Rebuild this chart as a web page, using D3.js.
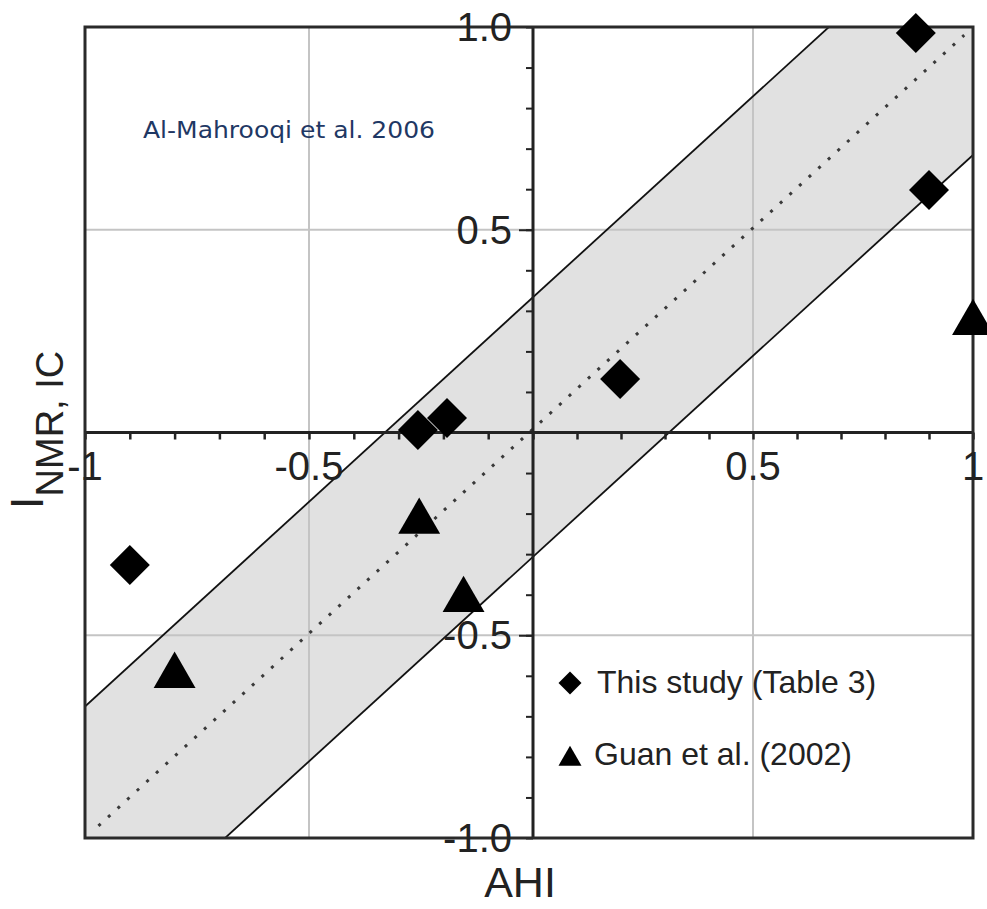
<!DOCTYPE html>
<html>
<head>
<meta charset="utf-8">
<script src="https://cdn.jsdelivr.net/npm/d3@7"></script>
<style>
  html, body { margin: 0; padding: 0; background: #fff; }
  svg { display: block; }
</style>
</head>
<body>
<svg id="chart" width="987" height="909"></svg>
<script>
// ---- data ----
const studyX = [0.87, 0.90, 0.198, -0.257, -0.192, -0.90];
const studyY = [0.985, 0.598, 0.132, 0.006, 0.036, -0.327];
const guanX = [1.0, -0.254, -0.155, -0.80];
const guanY = [0.27, -0.22, -0.413, -0.60];
const bandHalfWidth = 0.32;
const diagonal = [-0.97, 0.98];
const xTicks = [-1, -0.5, 0.5, 1];
const xTickLabels = ["-1", "-0.5", "0.5", "1"];
const yTicks = [1, 0.5, -0.5, -1];
const yTickLabels = ["1.0", "0.5", "-0.5", "-1.0"];
const gridValues = [-0.5, 0.5];
const minorTicks = d3.range(-10, 11).map(d => d / 10);
const legendLabels = ["This study (Table 3)", "Guan et al. (2002)"];
const annotation = "Al-Mahrooqi et al. 2006";

// ---- layout ----
const svg = d3.select("#chart");
const x = d3.scaleLinear().domain([-1, 0, 1]).range([85, 533, 973]);
const y = d3.scaleLinear().domain([-1, 1]).range([838, 27]);
const font = "'Liberation Sans', Arial, Helvetica, sans-serif";

svg.append("defs").append("clipPath").attr("id", "plotclip")
  .append("rect")
  .attr("x", x(-1)).attr("y", y(1))
  .attr("width", x(1) - x(-1)).attr("height", y(-1) - y(1));

const plot = svg.append("g").attr("clip-path", "url(#plotclip)");

// band
const bandXs = [-1.5, 1.5];
plot.append("path")
  .datum(bandXs)
  .attr("d", d3.area().x(d => x(d)).y0(d => y(d - bandHalfWidth)).y1(d => y(d + bandHalfWidth)))
  .attr("fill", "#e1e1e1");

// grid lines
plot.selectAll("line.gx").data(gridValues).join("line")
  .attr("x1", d => x(d)).attr("x2", d => x(d))
  .attr("y1", y(1)).attr("y2", y(-1))
  .attr("stroke", "#c4c4c4").attr("stroke-width", 2);
plot.selectAll("line.gy").data(gridValues).join("line")
  .attr("y1", d => y(d)).attr("y2", d => y(d))
  .attr("x1", x(-1)).attr("x2", x(1))
  .attr("stroke", "#c4c4c4").attr("stroke-width", 2);

// band boundary lines
[bandHalfWidth, -bandHalfWidth].forEach(c => {
  plot.append("path")
    .datum(bandXs)
    .attr("d", d3.line().x(d => x(d)).y(d => y(d + c)))
    .attr("fill", "none").attr("stroke", "#111").attr("stroke-width", 1.8);
});

// dotted diagonal
plot.append("path")
  .datum(diagonal)
  .attr("d", d3.line().x(d => x(d)).y(d => y(d)))
  .attr("fill", "none").attr("stroke", "#3a3a3a").attr("stroke-width", 3)
  .attr("stroke-dasharray", "3,10");

// axes through origin
const xAxisG = svg.append("g").attr("transform", `translate(0,${y(0)})`)
  .call(d3.axisBottom(x).tickValues(minorTicks).tickSize(7).tickFormat(""));
xAxisG.select(".domain").remove();
xAxisG.selectAll("line").attr("stroke", "#222").attr("stroke-width", 2.5);
svg.append("line").attr("x1", x(-1)).attr("x2", x(1)).attr("y1", y(0)).attr("y2", y(0))
  .attr("stroke", "#222").attr("stroke-width", 3);

const yAxisG = svg.append("g").attr("transform", `translate(${x(0)},0)`)
  .call(d3.axisLeft(y).tickValues(minorTicks).tickSize(7).tickFormat(""));
yAxisG.select(".domain").remove();
yAxisG.selectAll("line").attr("stroke", "#222").attr("stroke-width", 2);
svg.append("g").attr("transform", `translate(${x(0)},0)`)
  .call(d3.axisLeft(y).tickValues([0.5, -0.5]).tickSize(14).tickFormat(""))
  .call(g => g.select(".domain").remove())
  .selectAll("line").attr("stroke", "#222").attr("stroke-width", 2);
svg.append("line").attr("x1", x(0)).attr("x2", x(0)).attr("y1", y(1)).attr("y2", y(-1))
  .attr("stroke", "#222").attr("stroke-width", 3);

// frame
svg.append("rect")
  .attr("x", x(-1)).attr("y", y(1))
  .attr("width", x(1) - x(-1)).attr("height", y(-1) - y(1))
  .attr("fill", "none").attr("stroke", "#2a2a2a").attr("stroke-width", 3);

// tick labels
svg.selectAll("text.xt").data(xTicks).join("text")
  .attr("x", d => x(d)).attr("y", y(0) + 47)
  .attr("text-anchor", "middle")
  .attr("font-family", font).attr("font-size", 40).attr("fill", "#222")
  .text((d, i) => xTickLabels[i]);
svg.selectAll("text.yt").data(yTicks).join("text")
  .attr("x", x(0) - 21).attr("y", d => y(d) + 14)
  .attr("text-anchor", "end")
  .attr("font-family", font).attr("font-size", 40).attr("fill", "#222")
  .text((d, i) => yTickLabels[i]);

// markers
const diamondPath = d3.symbol().type(d3.symbolSquare).size(800)();
const trianglePath = d3.symbol().type(d3.symbolTriangle).size(760)();
svg.append("g").selectAll("path").data(studyX).join("path")
  .attr("d", diamondPath)
  .attr("transform", (d, i) => `translate(${x(d)},${y(studyY[i])}) rotate(45)`)
  .attr("fill", "#000");
svg.append("g").selectAll("path").data(guanX).join("path")
  .attr("d", trianglePath)
  .attr("transform", (d, i) => `translate(${x(d)},${y(guanY[i])})`)
  .attr("fill", "#000");

// legend
const legend = svg.append("g");
legend.append("path")
  .attr("d", d3.symbol().type(d3.symbolSquare).size(265)())
  .attr("transform", "translate(570,683) rotate(45)").attr("fill", "#000");
legend.append("path")
  .attr("d", d3.symbol().type(d3.symbolTriangle).size(229)())
  .attr("transform", "translate(570,759)").attr("fill", "#000");
legend.selectAll("text").data(legendLabels).join("text")
  .attr("x", (d, i) => i === 0 ? 597 : 594)
  .attr("y", (d, i) => i === 0 ? 693 : 765)
  .attr("font-family", font).attr("font-size", 32).attr("fill", "#222")
  .text(d => d);

// annotation
svg.append("text")
  .attr("x", 143).attr("y", 138)
  .attr("font-family", "'Comic Sans MS', 'DejaVu Sans', sans-serif")
  .attr("font-size", 23).attr("fill", "#1f3864")
  .attr("textLength", 292).attr("lengthAdjust", "spacingAndGlyphs")
  .text(annotation);

// axis titles
svg.append("text")
  .attr("x", 520).attr("y", 897).attr("text-anchor", "middle")
  .attr("font-family", font).attr("font-size", 43).attr("fill", "#222")
  .text("AHI");
const yt = svg.append("text")
  .attr("transform", "translate(43,430) rotate(-90)")
  .attr("text-anchor", "middle")
  .attr("font-family", font).attr("fill", "#222");
yt.append("tspan").attr("font-size", 46).text("I");
yt.append("tspan").attr("font-size", 38).attr("dy", 20).text("NMR, IC");
</script>
</body>
</html>
